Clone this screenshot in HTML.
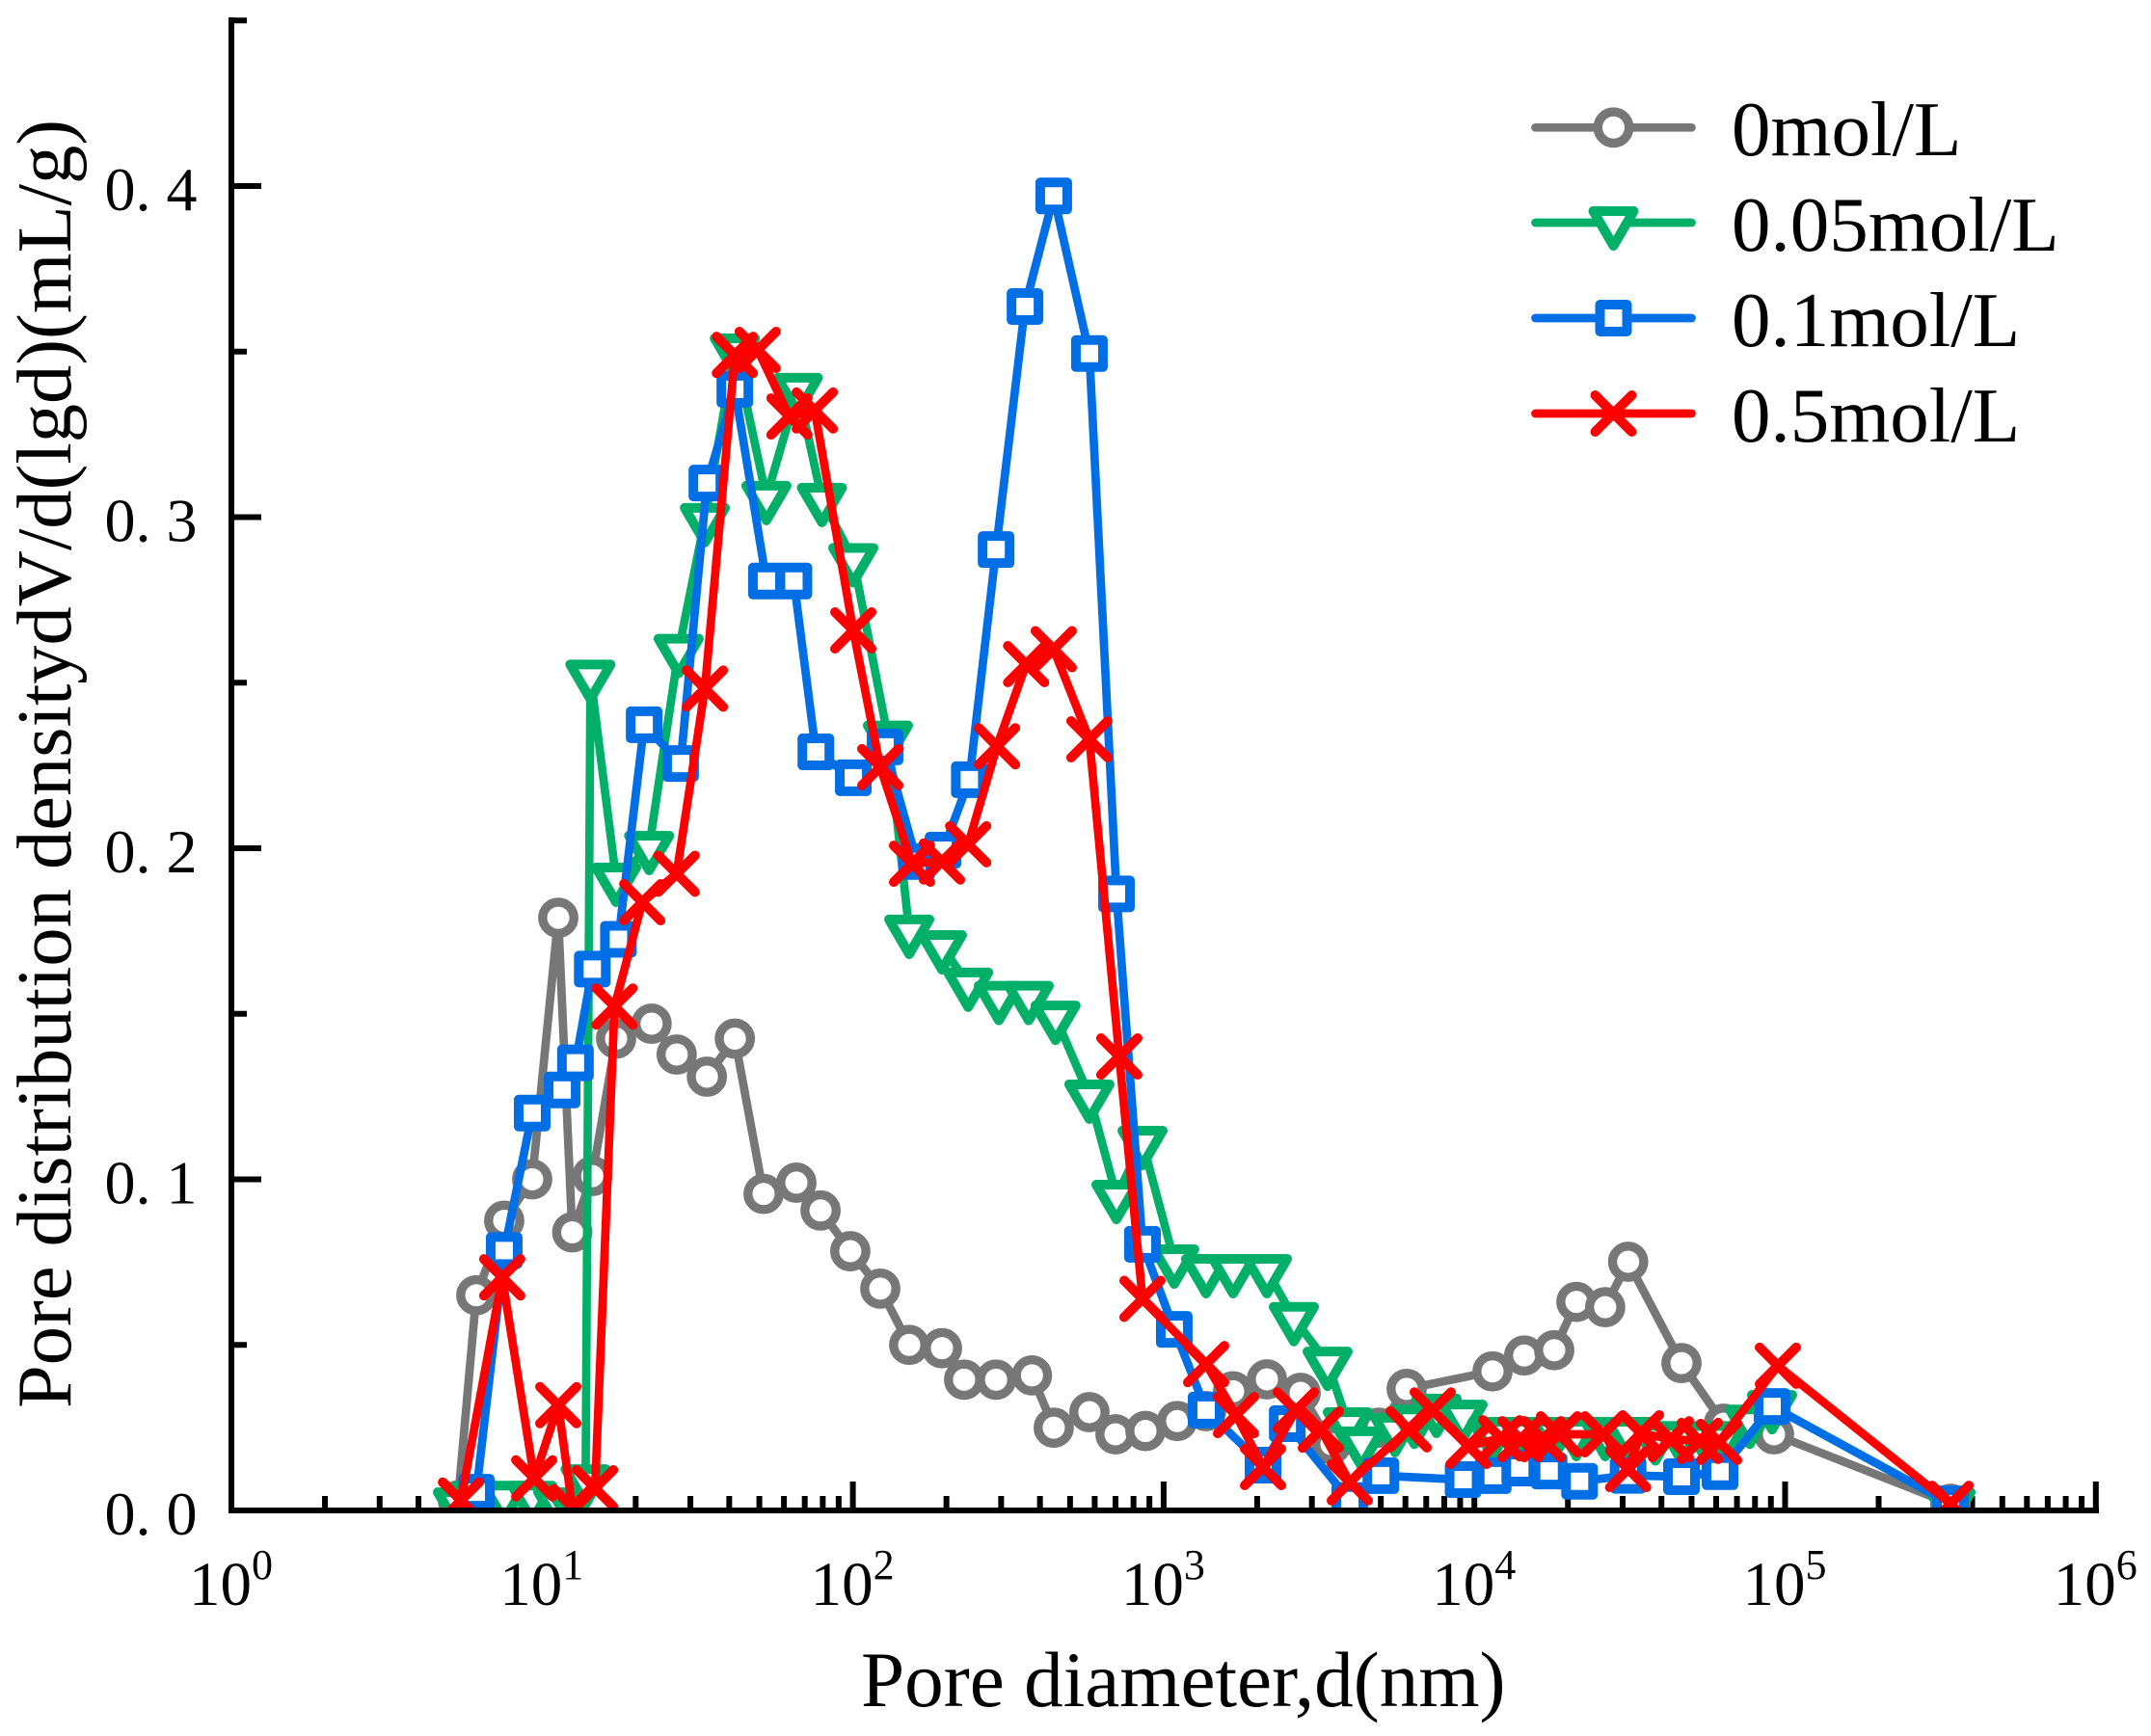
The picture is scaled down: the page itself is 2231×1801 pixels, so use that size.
<!DOCTYPE html>
<html lang="en">
<head>
<meta charset="utf-8">
<title>Pore distribution density vs pore diameter</title>
<style>
html,body{margin:0;padding:0;background:#fff;}
svg{display:block;font-family:"Liberation Serif",serif;fill:#000;}
</style>
</head>
<body>
<svg id="chart" xmlns="http://www.w3.org/2000/svg" width="2231" height="1801" viewBox="0 0 2231 1801">
  <rect x="0" y="0" width="2231" height="1801" style="fill:#fff"/>
  <defs><clipPath id="plot-clip"><rect x="0" y="0" width="2231" height="1564"/></clipPath></defs>
  <g id="axes"></g>
  <g id="series" clip-path="url(#plot-clip)"></g>
  <text x="893" y="1770" font-size="81.2">Pore diameter,d(nm)</text>
  <text transform="translate(73,1461) rotate(-90)" font-size="80.5">Pore distribution densitydV/d(lgd)(mL/g)</text>
  <g id="legend">
    <text x="1796" y="161" font-size="81">0mol/L</text>
    <text x="1796" y="260" font-size="81">0.05mol/L</text>
    <text x="1796" y="359" font-size="81">0.1mol/L</text>
    <text x="1796" y="458" font-size="81">0.5mol/L</text>
  </g>
</svg>
<script>
// ---- axis data ----
const yMajorTicks = [0, 0.1, 0.2, 0.3, 0.4];
const yMajorLabels = ["0. 0", "0. 1", "0. 2", "0. 3", "0. 4"];
const yMinorTicks = [0.05, 0.15, 0.25, 0.35, 0.45];
const xDecades = [0, 1, 2, 3, 4, 5, 6];

// ---- series data: diameters in nm, density in mL/g ----
const diameters0 = [5.36,6.14,7.55,9.29,11.27,12.5,14.5,17.3,22.5,27.1,33.9,41.7,51.6,65.8,78.7,98.1,122.5,151.8,193.5,228,289,377,443,577,700,874,1106,1370,1673,2150,2760,3469,4922,6056,11440,14470,18070,21300,26360,31250,46400,63500,92100,340700];
const density0 = [0.003,0.065,0.0875,0.1,0.179,0.084,0.101,0.1425,0.147,0.1377,0.131,0.1425,0.0956,0.099,0.0906,0.0783,0.067,0.05,0.049,0.0395,0.0395,0.0408,0.025,0.0297,0.023,0.024,0.027,0.03,0.036,0.0396,0.0355,0.02,0.025,0.0367,0.042,0.0468,0.0484,0.063,0.0614,0.0751,0.0445,0.0262,0.023,0.002];

const diameters005 = [5.36,6.14,7.55,9.29,11.27,12.5,13.8,14.3,17.3,22.1,27.5,33.4,41.7,52.7,66.5,79.5,100.3,129.7,151.8,193.5,235,295,368,449,577,705,855,1082,1370,1673,2150,2625,3371,3917,4329,5559,6412,7557,9166,11440,14470,18070,21300,26360,31250,38250,46400,56000,63500,77000,90800,340700];
const density005 = [0.002,0.004,0.004,0.004,0.002,0.002,0.009,0.252,0.1907,0.2003,0.2598,0.2993,0.3505,0.306,0.3386,0.3054,0.2872,0.2336,0.175,0.1703,0.159,0.155,0.155,0.149,0.1252,0.0949,0.1112,0.0754,0.0725,0.0725,0.0725,0.058,0.0445,0.0262,0.0204,0.0245,0.027,0.0303,0.0285,0.0233,0.0233,0.0233,0.0233,0.0233,0.0233,0.022,0.022,0.022,0.022,0.027,0.0314,0.002];

const diameters01 = [6.14,7.55,9.29,11.6,12.8,14.5,17.6,21.3,27.9,33.9,41.7,52.7,64.6,76,100.3,126.9,160.7,195,237,289,358,443,577,705,855,1082,1370,2089,2500,3974,5000,9200,11500,14000,17400,21800,31250,46400,61740,90800,340700];
const density01 = [0.0055,0.0785,0.12,0.127,0.1352,0.1635,0.1725,0.2373,0.2256,0.3103,0.3386,0.2807,0.2807,0.2291,0.2213,0.2306,0.196,0.1994,0.2207,0.2902,0.3636,0.397,0.3494,0.1862,0.0804,0.0547,0.0303,0.0137,0.0262,0.003,0.0105,0.0093,0.0105,0.0128,0.0119,0.0088,0.0106,0.0102,0.0117,0.0314,0.002];

const diameters05 = [5.48,7.44,9.43,11.27,12.5,14.8,17.1,21,27.1,33.4,41.7,49.4,62.5,75.4,100.3,122.5,155,193.5,235,291,361,443,577,720,855,1370,1710,2089,2663,3206,3974,6145,7345,9568,12200,14080,16590,18730,26010,31250,34370,42900,53160,61300,94800,340700];
const density05 = [0.003,0.0704,0.0097,0.0318,0.001,0.0067,0.1522,0.1837,0.1923,0.2482,0.349,0.3505,0.3304,0.3322,0.2658,0.2245,0.1953,0.196,0.2012,0.2308,0.2556,0.2601,0.2329,0.1371,0.0639,0.0442,0.0288,0.0131,0.0302,0.0244,0.0085,0.0245,0.0302,0.0195,0.0218,0.0215,0.0215,0.023,0.023,0.0125,0.0233,0.0215,0.021,0.0207,0.0437,0.002];

// ---- axis functions ----
function xScale(d) { return 240 + 322.3 * Math.log10(d); }
function yScale(v) { return 1567 - 3435 * v; }

const NS = "http://www.w3.org/2000/svg";
function make(tag, attrs, parent) {
  const el = document.createElementNS(NS, tag);
  for (const k in attrs) el.setAttribute(k, attrs[k]);
  parent.appendChild(el);
  return el;
}

// ---- axes ----
const axes = document.getElementById("axes");
const ySpine = make("line", {x1:240, y1:18, x2:240, y2:1570, stroke:"#000", "stroke-width":6}, axes);


const xSpine = make("line", {x1:237, y1:1567, x2:2177, y2:1567, stroke:"#000", "stroke-width":6}, axes);



yMajorTicks.forEach(function (v, i) {
  const y = yScale(v);
  if (v > 0) {
    const t = make("line", {x1:240, y1:y, x2:271, y2:y, stroke:"#000", "stroke-width":6}, axes);
    
    
  }
  const lab = make("text", {x:108.5, y:y + 25, "font-size":64}, axes);
  
  
  lab.setAttribute('xml:space', 'preserve');
  lab.textContent = yMajorLabels[i];
});
yMinorTicks.forEach(function (v) {
  const y = yScale(v);
  const t = make("line", {x1:240, y1:y, x2:256, y2:y, stroke:"#000", "stroke-width":6}, axes);
  
  
});
xDecades.forEach(function (p, i) {
  const d = Math.pow(10, p);
  const x = xScale(d);
  if (i > 0) {
    const t = make("line", {x1:x, y1:1567, x2:x, y2:1537, stroke:"#000", "stroke-width":6}, axes);
    
    
  }
  const lab = make("text", {x:x - 44, y:1665, "font-size":65}, axes);
  
  
  lab.appendChild(document.createTextNode("10"));
  const sup = make("tspan", {"font-size":44, dy:-27}, lab);
  sup.textContent = String(p);
  if (i < xDecades.length - 1) {
    for (let m = 2; m <= 9; m++) {
      const mx = xScale(d * m);
      const mt = make("line", {x1:mx, y1:1567, x2:mx, y2:1552, stroke:"#000", "stroke-width":6}, axes);
      
      
    }
  }
});

// ---- markers ----
const SW = 8.7;
function drawMarker(parent, kind, color, x, y) {
  let el;
  if (kind === "circle") {
    el = make("circle", {cx:x, cy:y, r:16.2, fill:"#fff", stroke:color, "stroke-width":9.4}, parent);
  } else if (kind === "triangle") {
    el = make("path", {d:"M" + (x - 21) + " " + (y - 12) + "L" + (x + 21) + " " + (y - 12) + "L" + x + " " + (y + 24) + "Z",
      fill:"#fff", stroke:color, "stroke-width":10, "stroke-linejoin":"round"}, parent);
  } else if (kind === "square") {
    el = make("rect", {x:x - 14, y:y - 14, width:28, height:28, fill:"#fff", stroke:color, "stroke-width":10, "stroke-linejoin":"round"}, parent);
  } else {
    el = make("path", {d:"M" + (x - 19) + " " + (y - 19) + "L" + (x + 19) + " " + (y + 19) + "M" + (x - 19) + " " + (y + 19) + "L" + (x + 19) + " " + (y - 19),
      fill:"none", stroke:color, "stroke-width":10, "stroke-linecap":"round"}, parent);
  }
  return el;
}

// ---- series ----
const seriesRoot = document.getElementById("series");
function drawSeries(name, xs, ys, color, kind) {
  const g = make("g", {}, seriesRoot);
  
  
  const pts = xs.map(function (d, i) { return xScale(d).toFixed(1) + "," + yScale(ys[i]).toFixed(1); }).join(" ");
  const line = make("polyline", {points:pts, fill:"none", stroke:color, "stroke-width":SW, "stroke-linejoin":"round", "stroke-linecap":"round"}, g);
  
  
  xs.forEach(function (d, i) {
    const m = drawMarker(g, kind, color, xScale(d), yScale(ys[i]));
    
    
  });
}
drawSeries("series-0mol", diameters0, density0, "#777777", "circle");
drawSeries("series-005mol", diameters005, density005, "#00b068", "triangle");
drawSeries("series-01mol", diameters01, density01, "#006fe6", "square");
drawSeries("series-05mol", diameters05, density05, "#ff0000", "cross");

// ---- legend swatches ----
const legend = document.getElementById("legend");
[[132.3, "#777777", "circle"], [231, "#00b068", "triangle"], [330, "#006fe6", "square"], [429, "#ff0000", "cross"]].forEach(function (row) {
  const ln = make("line", {x1:1592.5, y1:row[0], x2:1754.5, y2:row[0], stroke:row[1], "stroke-width":8.7, "stroke-linecap":"round"}, legend);
  
  
  const mk = drawMarker(legend, row[2], row[1], 1673.5, row[0]);
  
  
});
</script>
</body>
</html>
